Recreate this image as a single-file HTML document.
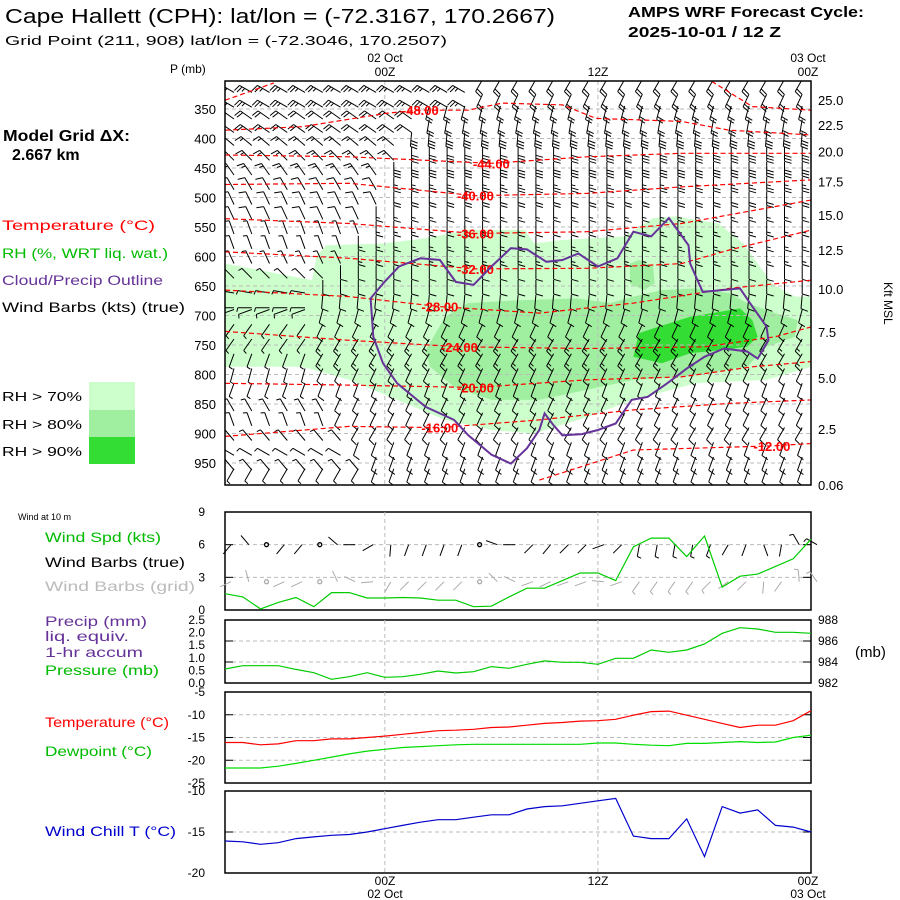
<!DOCTYPE html>
<html><head><meta charset="utf-8"><style>
body{margin:0;background:#fff;}
svg{display:block;font-family:"Liberation Sans",sans-serif;}
</style></head><body>
<svg id="c" width="900" height="900" viewBox="0 0 900 900">
<defs><clipPath id="mclip"><rect x="225" y="81" width="586" height="404"/></clipPath></defs>
<text x="5" y="23" font-size="20" textLength="550" lengthAdjust="spacingAndGlyphs">Cape Hallett (CPH):  lat/lon = (-72.3167, 170.2667)</text>
<text x="5" y="45" font-size="13" textLength="442" lengthAdjust="spacingAndGlyphs">Grid Point (211, 908) lat/lon = (-72.3046, 170.2507)</text>
<text x="628" y="17" font-size="15" font-weight="bold" textLength="236" lengthAdjust="spacingAndGlyphs">AMPS WRF Forecast Cycle:</text>
<text x="628" y="37" font-size="15" font-weight="bold" textLength="153" lengthAdjust="spacingAndGlyphs">2025-10-01 / 12  Z</text>
<text x="170" y="73" font-size="12">P (mb)</text>
<text x="385" y="62" font-size="12" text-anchor="middle">02 Oct</text>
<text x="385" y="76" font-size="12" text-anchor="middle">00Z</text>
<text x="598" y="76" font-size="12" text-anchor="middle">12Z</text>
<text x="808" y="62" font-size="12" text-anchor="middle">03 Oct</text>
<text x="808" y="76" font-size="12" text-anchor="middle">00Z</text>
<text x="3" y="141" font-size="16" font-weight="bold" textLength="127" lengthAdjust="spacingAndGlyphs">Model Grid ΔX:</text>
<text x="12" y="160" font-size="16" font-weight="bold">2.667 km</text>
<text x="2" y="230" font-size="14" fill="#ff0000" textLength="153" lengthAdjust="spacingAndGlyphs">Temperature (°C)</text>
<text x="2" y="258" font-size="14" fill="#00bb00" textLength="166" lengthAdjust="spacingAndGlyphs">RH (%, WRT liq. wat.)</text>
<text x="2" y="285" font-size="14" fill="#663399" textLength="161" lengthAdjust="spacingAndGlyphs">Cloud/Precip Outline</text>
<text x="2" y="312" font-size="14" textLength="183" lengthAdjust="spacingAndGlyphs">Wind Barbs (kts) (true)</text>
<rect x="89" y="382" width="46" height="28" fill="#ccffcc"/>
<rect x="89" y="410" width="46" height="27" fill="#a0eea0"/>
<rect x="89" y="437" width="46" height="27" fill="#33dd33"/>
<text x="2" y="401" font-size="13" textLength="80" lengthAdjust="spacingAndGlyphs">RH &gt; 70%</text>
<text x="2" y="429" font-size="13" textLength="80" lengthAdjust="spacingAndGlyphs">RH &gt; 80%</text>
<text x="2" y="456" font-size="13" textLength="80" lengthAdjust="spacingAndGlyphs">RH &gt; 90%</text>
<text x="18" y="520" font-size="9">Wind at 10 m</text>
<text x="45" y="542" font-size="14" fill="#00bb00" textLength="116" lengthAdjust="spacingAndGlyphs">Wind Spd (kts)</text>
<text x="45" y="567" font-size="14" textLength="140" lengthAdjust="spacingAndGlyphs">Wind Barbs (true)</text>
<text x="45" y="591" font-size="14" fill="#bbbbbb" textLength="150" lengthAdjust="spacingAndGlyphs">Wind Barbs (grid)</text>
<text x="45" y="626" font-size="14" fill="#663399" textLength="102" lengthAdjust="spacingAndGlyphs">Precip (mm)</text>
<text x="45" y="641" font-size="14" fill="#663399" textLength="84" lengthAdjust="spacingAndGlyphs">liq. equiv.</text>
<text x="45" y="657" font-size="14" fill="#663399" textLength="98" lengthAdjust="spacingAndGlyphs">1-hr accum</text>
<text x="45" y="675" font-size="14" fill="#00bb00" textLength="114" lengthAdjust="spacingAndGlyphs">Pressure (mb)</text>
<text x="855" y="657" font-size="15">(mb)</text>
<text x="45" y="727" font-size="14" fill="#ff0000" textLength="124" lengthAdjust="spacingAndGlyphs">Temperature (°C)</text>
<text x="45" y="756" font-size="14" fill="#00bb00" textLength="107" lengthAdjust="spacingAndGlyphs">Dewpoint (°C)</text>
<text x="45" y="836" font-size="14" fill="#0000cc" textLength="131" lengthAdjust="spacingAndGlyphs">Wind Chill T (°C)</text>
<text x="385" y="885" font-size="12" text-anchor="middle">00Z</text>
<text x="598" y="885" font-size="12" text-anchor="middle">12Z</text>
<text x="808" y="885" font-size="12" text-anchor="middle">00Z</text>
<text x="385" y="898" font-size="12" text-anchor="middle">02 Oct</text>
<text x="808" y="898" font-size="12" text-anchor="middle">03 Oct</text>
<text x="884" y="282" font-size="12" transform="rotate(90 884 282)">Kft MSL</text>
<g id="main"></g>
<g id="lower"></g>
</svg>
<script>
// ---- data ----
const pLevels=[350,400,450,500,550,600,650,700,750,800,850,900,950];
const kftLabels=["25.0","22.5","20.0","17.5","15.0","12.5","10.0","7.5","5.0","2.5","0.06"];
const kftPress=[335,377,422,473,530,589,655,728,806,892,987];
const rh70=[[0,612],[4.9,640],[5.15,600],[5.7,581],[8.9,578],[11.3,569],[13.7,555],[16.9,555],[17.4,578],[19,572],[22.5,566],[24.1,535],[25.4,532],[27.8,544],[29.2,578],[30,612],[30.8,646],[32.1,668],[33.05,668],[33.05,787],[30.5,809],[26.5,815],[23,843],[20.4,872],[17.4,900],[15,894],[12.4,877],[9.7,843],[7,809],[4.35,787],[0,787]];
const rh80=[[11.3,759],[12.4,702],[13.7,679],[16.6,674],[19.8,671],[21.7,679],[23,668],[24.6,657],[26.5,654],[28.4,662],[29.4,679],[31,696],[32.25,708],[32.1,736],[30.5,753],[29.4,787],[25.7,804],[23,809],[20.4,826],[17.7,843],[15,843],[12.9,821],[11.55,787]];
const rh80b=[[22.8,612],[23.3,606],[24.1,617],[24.2,646],[23.6,657],[22.8,646]];
const rh90=[[23,770],[23.3,730],[24.4,719],[26.2,702],[27.8,694],[29,688],[29.7,708],[30,736],[29.4,753],[27.8,759],[26.2,764],[24.6,781]];
const cloud=[[8.2,671],[8.9,646],[9.8,617],[11,603],[12.1,606],[13,643],[14,648],[15,617],[16.1,586],[17,588],[18.1,609],[19,606],[19.9,595],[21,617],[22.1,603],[23,558],[24,566],[25,535],[26.1,581],[26.2,612],[26.9,660],[29,654],[29.7,685],[30.5,719],[30.6,742],[30,773],[29.4,761],[28.1,756],[27,770],[26,790],[24.9,815],[23.8,838],[22.9,843],[22,883],[21,894],[20.1,901],[19,903],[18.5,886],[18,866],[17.7,894],[17,925],[16.1,951],[15,936],[13.7,903],[12.9,877],[11.3,855],[9.7,815],[8.9,781],[8.35,736]];
const isoValues=["-52","-48","-48b","-44","-40","-36","-32","-28","-24","-20","-16","-12"];
const isoLines=[
[[0,335],[2.75,306]],
[[0,386],[4.35,380],[9.15,357],[11,352],[13.7,352],[15.6,340],[19,343],[20.9,366],[25.7,371],[28.4,386],[33.05,394]],
[[27.4,303],[29.7,346],[33.05,352]],
[[0,428],[7,431],[15,442],[20.4,431],[25.7,425],[33.05,425]],
[[0,478],[7,476],[14.1,497],[20.4,493],[25.7,482],[33.05,470]],
[[0,536],[7,544],[14.1,561],[20.4,558],[25.7,544],[33.05,504]],
[[0,592],[7,603],[14.1,621],[20.4,620],[25.7,612],[28.4,589],[33.05,555]],
[[0,657],[7,668],[12.1,685],[17.7,696],[23,679],[28.4,654],[33.05,640]],
[[0,727],[7,742],[13.2,753],[20.4,756],[27,753],[31,736],[33.05,719]],
[[0,815],[7,818],[14.1,822],[20.4,809],[25.7,804],[29.7,787],[33.05,778]],
[[0,905],[7,888],[12.1,890],[17.7,877],[23,860],[28.4,849],[33.05,843]],
[[17.7,979],[23,928],[30.8,921],[33.05,917]]];
const isoLabels=["-48.00","-44.00","-40.00","-36.00","-32.00","-28.00","-24.00","-20.00","-16.00","-12.00"];
const isoLabelPos=[[11,352],[15,442],[14.1,497],[14.1,561],[14.1,621],[12.1,685],[13.2,753],[14.1,822],[12.1,890],[30.8,921]];
const barbP=[310,335,355,378,400,425,450,475,500,525,550,575,600,625,650,675,700,725,750,775,800,825,850,875,900,925,950,970];
const barbDirL=[300,300,305,305,310,315,325,330,335,335,340,340,335,315,280,270,250,215,215,200,195,200,330,340,320,300,320,210];
const barbDirR=[210,205,195,190,185,180,180,180,180,180,180,180,180,180,180,185,195,205,210,210,205,200,205,205,210,200,200,200];
const barbSpdL=[25,25,20,20,15,15,15,12,10,10,8,8,8,8,8,8,8,8,8,8,8,8,8,8,8,8,5,5];
const barbSpdR=[20,20,20,20,30,30,30,25,20,15,15,15,15,10,10,10,10,10,15,15,10,10,10,10,10,10,10,10];
const barbSwitch=[14,14,11,11,10,10,9,9,9,8,8,7,7,6,5,5,5,5,5,5,5,5,6,6,7,7,8,8];
// surface series (hourly, 15Z 01 Oct to 00Z 03 Oct)
const wspd=[1.5,1.2,0.1,0.7,1.15,0.3,1.6,1.6,1.1,1.1,1.15,1.1,0.9,0.9,0.3,0.35,1.2,2.0,2.0,2.7,3.4,3.4,2.7,5.8,6.6,6.6,4.9,6.8,2.1,3.1,3.3,4.0,4.7,6.5];
const wdir=[220,320,-1,220,220,-1,310,270,240,185,200,200,200,200,-1,290,270,225,220,225,225,250,225,190,190,190,190,200,210,200,160,190,330,300];
const pres=[983.33,983.65,983.65,983.65,983.3,982.98,982.35,982.6,982.98,982.54,982.6,982.83,983.14,982.95,983.08,983.56,983.4,983.78,984.1,983.97,983.97,983.78,984.35,984.35,985.14,984.92,985.14,985.71,986.73,987.27,987.14,986.83,986.83,986.73];
const temp=[-16.1,-16.1,-16.6,-16.4,-15.7,-15.7,-15.3,-15.3,-15.0,-14.7,-14.3,-13.9,-13.5,-13.4,-13.2,-12.8,-12.7,-12.3,-11.9,-11.7,-11.4,-11.3,-11.0,-10.1,-9.3,-9.2,-10.1,-11.0,-11.9,-12.8,-12.3,-12.3,-11.3,-9.1];
const dewp=[-21.7,-21.7,-21.7,-21.3,-20.7,-20.0,-19.3,-18.6,-18.0,-17.6,-17.2,-17.0,-16.8,-16.6,-16.5,-16.5,-16.5,-16.5,-16.5,-16.5,-16.5,-16.2,-16.2,-16.5,-16.7,-16.8,-16.3,-16.3,-16.1,-15.9,-16.1,-16.0,-15.0,-14.5];
const wchill=[-16.1,-16.2,-16.5,-16.3,-15.8,-15.6,-15.4,-15.3,-15.0,-14.6,-14.2,-13.8,-13.5,-13.5,-13.2,-12.9,-12.9,-12.2,-11.9,-11.8,-11.5,-11.2,-10.9,-15.5,-15.8,-15.8,-13.4,-18.0,-11.9,-12.7,-12.3,-14.2,-14.4,-15.0];
const wspdTicks=["0","3","6","9"];
const precTicks=["0.0","0.5","1.0","1.5","2.0","2.5"];
const presTicks=["982","984","986","988"];
const tempTicks=["-25","-20","-15","-10","-5"];
const wcTicks=["-20","-15","-10"];

// ---- axes ----
const NS="http://www.w3.org/2000/svg";
const X0=225,X1=811;
const xH=h=>X0+h*(X1-X0)/33;
const yP=p=>109+(p-350)*0.59;
const panelW={top:512,bot:610};
const panelPr={top:620,bot:683};
const panelT={top:692,bot:783};
const panelWC={top:791,bot:873};
const lin=(pn,min,max)=>v=>pn.bot-(v-min)/(max-min)*(pn.bot-pn.top);
const yW=lin(panelW,0,9), yPr=lin(panelPr,982,988), yPc=lin(panelPr,0,2.5), yT=lin(panelT,-25,-5), yWC=lin(panelWC,-20,-10);
function mk(par,tag,at){const e=document.createElementNS(NS,tag);for(const k in at)e.setAttribute(k,at[k]);par.appendChild(e);return e;}
const main=document.getElementById('main'), lower=document.getElementById('lower');
const ptsStr=(arr)=>arr.map(q=>xH(q[0]).toFixed(1)+','+yP(q[1]).toFixed(1)).join(' ');
const clipG=mk(main,'g',{'clip-path':'url(#mclip)'});



let e;
e=mk(clipG,'polygon',{points:ptsStr(rh70),fill:'#ccffcc'});


e=mk(clipG,'polygon',{points:ptsStr(rh80),fill:'#a0eea0'});


e=mk(clipG,'polygon',{points:ptsStr(rh80b),fill:'#a0eea0'});


e=mk(clipG,'polygon',{points:ptsStr(rh90),fill:'#33dd33'});



pLevels.forEach(p=>{
  e=mk(clipG,'line',{x1:X0,x2:X1,y1:yP(p),y2:yP(p),stroke:'#bbbbbb','stroke-dasharray':'4,3'});
  
  
  e=mk(main,'text',{x:216,y:yP(p)+5,'font-size':13,'text-anchor':'end'});e.textContent=p;
  
  
});
kftLabels.forEach((l,i)=>{
  e=mk(main,'text',{x:818,y:yP(kftPress[i])+5,'font-size':13});e.textContent=l;
  
  
});
[9,21].forEach(h=>{
  e=mk(clipG,'line',{x1:xH(h),x2:xH(h),y1:81,y2:485,stroke:'#bbbbbb','stroke-dasharray':'4,3'});
  
  
});

// barbs (southern-hemisphere convention: feathers on the other side)
function barb(par,x,y,dir,spd,col,L){
  if(dir<0){const c=mk(par,'circle',{cx:x,cy:y,r:2,fill:'none',stroke:col,'stroke-width':1.3});return;}
  const r=dir*Math.PI/180, sx=Math.sin(r), sy=-Math.cos(r);
  const ex=x+L*sx, ey=y+L*sy;
  let d=`M${x.toFixed(1)},${y.toFixed(1)}L${ex.toFixed(1)},${ey.toFixed(1)}`;
  const px=sy, py=-sx;
  let n=Math.floor(spd/10), half=(spd%10)>=5, k=0;
  for(let i=0;i<n;i++,k++){const bx=ex-sx*3*k, by=ey-sy*3*k;d+=`M${bx.toFixed(1)},${by.toFixed(1)}l${(px*7+sx*2).toFixed(1)},${(py*7+sy*2).toFixed(1)}`;}
  if(half){const bx=ex-sx*3*k, by=ey-sy*3*k;d+=`M${bx.toFixed(1)},${by.toFixed(1)}l${(px*4+sx*1).toFixed(1)},${(py*4+sy*1).toFixed(1)}`;}
  const p=mk(par,'path',{d:d,stroke:col,fill:'none','stroke-width':1});
  
  
}
barbP.forEach((p,r)=>{
  for(let h=0;h<33;h++){
    const left=h<barbSwitch[r];
    const dir=left?barbDirL[r]:barbDirR[r];
    const oy=(dir>90&&dir<270)?-6:7;
    barb(clipG,xH(h)+9,yP(p)+oy,dir,left?barbSpdL[r]:barbSpdR[r],'#000',14);
  }
});

isoLines.forEach((ln,i)=>{
  e=mk(clipG,'polyline',{points:ptsStr(ln),fill:'none',stroke:'#ff0000','stroke-width':1.2,'stroke-dasharray':'5,3'});
  
  
});
isoLabels.forEach((l,i)=>{
  e=mk(clipG,'text',{x:xH(isoLabelPos[i][0]),y:yP(isoLabelPos[i][1])+5,'font-size':13,'font-weight':'bold',fill:'#ff0000','text-anchor':'middle'});e.textContent=l;
  
  
});
e=mk(clipG,'polygon',{points:ptsStr(cloud),fill:'none',stroke:'#663399','stroke-width':2});


e=mk(main,'rect',{x:X0,y:81,width:X1-X0,height:404,fill:'none',stroke:'#000','stroke-width':1.5});



// ---- lower panels ----
function frame(pn,name){
  e=mk(lower,'rect',{x:X0,y:pn.top,width:X1-X0,height:pn.bot-pn.top,fill:'none',stroke:'#000','stroke-width':1.5});
  
  
  [9,21].forEach(h=>{
    e=mk(lower,'line',{x1:xH(h),x2:xH(h),y1:pn.top,y2:pn.bot,stroke:'#bbbbbb','stroke-dasharray':'4,3'});
    
    
  });
}
function hgrid(y){
  e=mk(lower,'line',{x1:X0,x2:X1,y1:y,y2:y,stroke:'#bbbbbb','stroke-dasharray':'4,3'});
  
  
  e=mk(lower,'line',{x1:X0,x2:X0+8,y1:y,y2:y,stroke:'#000'});
  
  
  e=mk(lower,'line',{x1:X1-8,x2:X1,y1:y,y2:y,stroke:'#000'});
  
  
}
function tick(x,y,t,anchor){
  e=mk(lower,'text',{x:x,y:y+4,'font-size':12,'text-anchor':anchor});e.textContent=t;
  
  
}
function series(arr,yf,col,name){
  e=mk(lower,'polyline',{points:arr.map((v,i)=>xH(i).toFixed(1)+','+yf(v).toFixed(1)).join(' '),fill:'none',stroke:col,'stroke-width':1.2});
  
  
}
frame(panelW,'wind-panel-frame');
[3,6].forEach(v=>hgrid(yW(v)));
wspdTicks.forEach(t=>tick(205,yW(+t),t,'end'));
wdir.forEach((d,i)=>{
  barb(lower,xH(i)+6,yW(6.0),d,wspd[i]*1.2,'#000',12);
  barb(lower,xH(i)+6,yW(2.6),d<0?-1:d+25,wspd[i]*1.2,'#aaaaaa',12);
});
series(wspd,yW,'#00cc00','wind-speed-line');
frame(panelPr,'precip-pressure-frame');
[984,986].forEach(v=>hgrid(yPr(v)));
precTicks.forEach(t=>tick(205,yPc(+t),t,'end'));
presTicks.forEach(t=>tick(818,yPr(+t),t,'start'));
series(pres,yPr,'#00cc00','pressure-line');
frame(panelT,'temperature-panel-frame');
[-20,-15,-10].forEach(v=>hgrid(yT(v)));
tempTicks.forEach(t=>tick(205,yT(+t),t,'end'));
series(temp,yT,'#ff0000','temperature-line');
series(dewp,yT,'#00dd00','dewpoint-line');
frame(panelWC,'wind-chill-panel-frame');
hgrid(yWC(-15));
wcTicks.forEach(t=>tick(205,yWC(+t),t,'end'));
series(wchill,yWC,'#0000cc','wind-chill-line');
</script>
</body></html>
